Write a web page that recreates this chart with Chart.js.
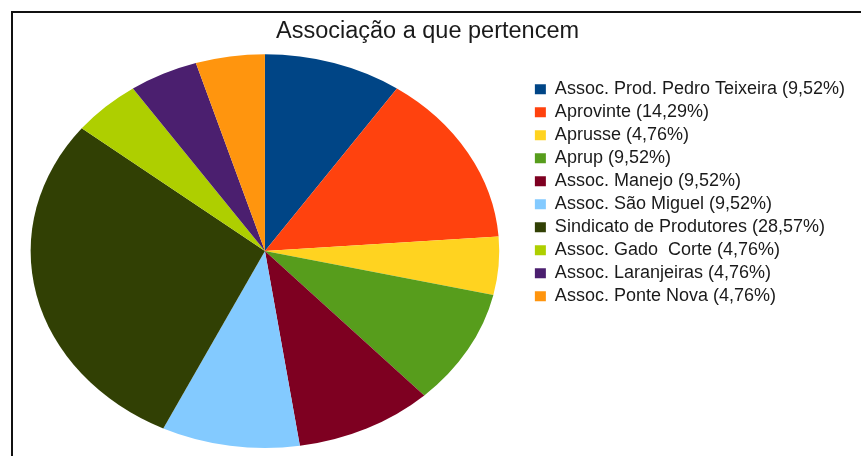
<!DOCTYPE html>
<html>
<head>
<meta charset="utf-8">
<script src="https://cdn.jsdelivr.net/npm/chart.js@4"></script>
<style>
  html, body { margin: 0; padding: 0; background: #fff; }
  #wrap { position: relative; width: 861px; height: 456px; overflow: hidden; }
  #frame { position: absolute; left: 11px; top: 11px; right: -4px; bottom: -4px;
           border-top: 2px solid #111; border-left: 2px solid #111; pointer-events: none; }
  canvas { position: absolute; left: 0; top: 0; }
</style>
</head>
<body>
<div id="wrap">
  <canvas id="chartAssoc" width="861" height="456"></canvas>
  <div id="frame"></div>
</div>
<script>
// dados (respostas, total 21)
const categories = [
    'Assoc. Prod. Pedro Teixeira', 'Aprovinte', 'Aprusse', 'Aprup', 'Assoc. Manejo',
    'Assoc. São Miguel', 'Sindicato de Produtores', 'Assoc. Gado  Corte',
    'Assoc. Laranjeiras', 'Assoc. Ponte Nova'
];
const counts = [2, 3, 1, 2, 2, 2, 6, 1, 1, 1];
const sliceColors = ['#004586', '#ff420e', '#ffd320', '#579d1c', '#7e0021',
                     '#83caff', '#314004', '#aecf00', '#4b1f6f', '#ff950e'];

const total = counts.reduce((s, v) => s + v, 0);
const labels = categories.map((c, i) => c + ' (' + (counts[i] / total * 100).toFixed(2).replace('.', ',') + '%)');

// a pizza original está esticada na horizontal (elipse)
const PIE_STRETCH = 1.19;
const stretchPie = {
    id: 'stretchPie',
    beforeDatasetsDraw(chart) {
        const arc = chart.getDatasetMeta(0).data[0];
        const ctx = chart.ctx;
        ctx.save();
        ctx.translate(arc.x, arc.y);
        ctx.scale(PIE_STRETCH, 1);
        ctx.translate(-arc.x, -arc.y);
    },
    afterDatasetsDraw(chart) { chart.ctx.restore(); }
};

new Chart(document.getElementById('chartAssoc').getContext('2d'), {
    type: 'pie',
    data: {
        labels: labels,
        datasets: [{ data: counts, backgroundColor: sliceColors, borderWidth: 0 }]
    },
    plugins: [stretchPie],
    options: {
        responsive: false,
        animation: false,
        layout: { padding: { left: 0, right: 6, top: 10, bottom: 8 } },
        plugins: {
            tooltip: { enabled: false },
            title: {
                display: true, text: 'Associação a que pertencem', color: '#1a1a1a',
                font: { family: 'Liberation Sans', size: 23.5, weight: 'normal' },
                padding: { top: 7, bottom: 9 }
            },
            legend: {
                position: 'right', align: 'start',
                // título vazio só para empurrar a legenda para baixo
                title: { display: true, text: '', font: { size: 1 }, padding: { top: 64, bottom: 0 } },
                labels: {
                    color: '#1a1a1a', boxWidth: 11, boxHeight: 10, padding: 5,
                    font: { family: 'Liberation Sans', size: 18 }
                }
            }
        }
    }
});
</script>
</body>
</html>
